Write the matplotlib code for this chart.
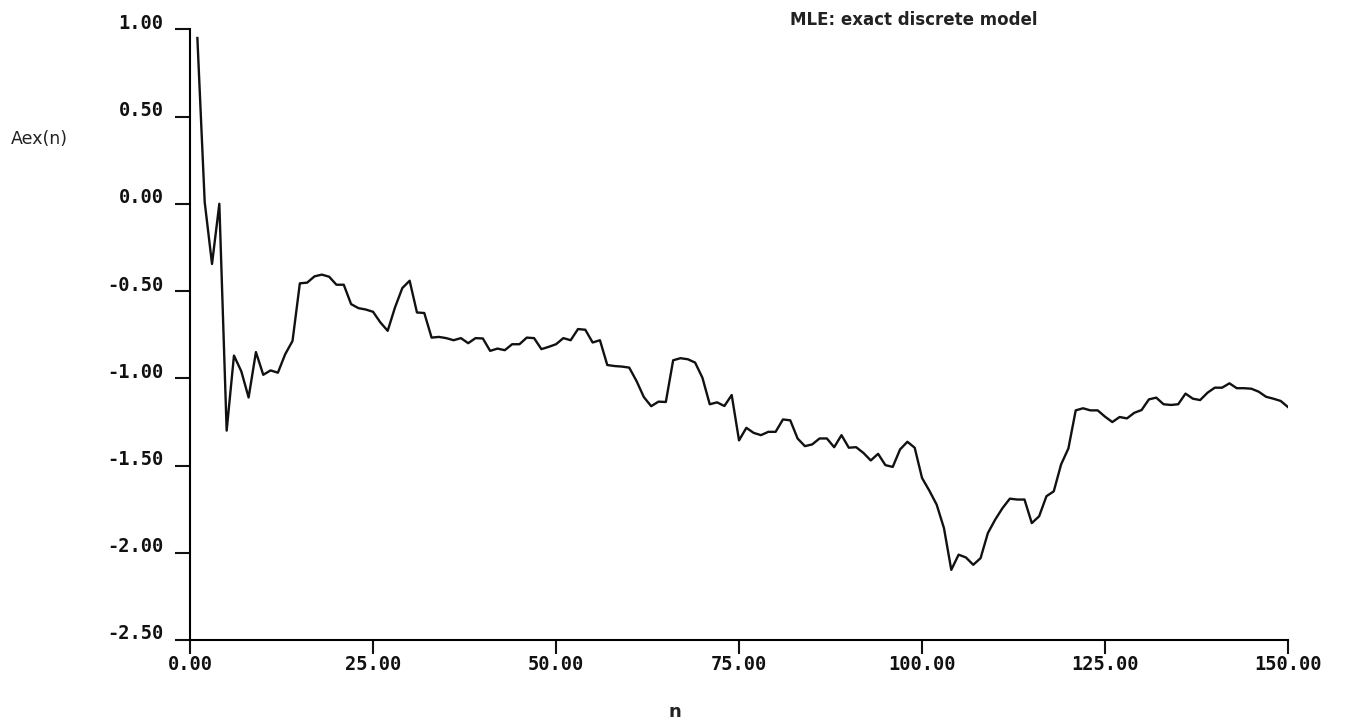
import matplotlib
matplotlib.use("Agg")
import matplotlib.pyplot as plt
import matplotlib.transforms as mtransforms
import numpy as np

# Aex(n) values, one per n = 1..150
n_values = list(range(1, 151))
aex = [
    0.95, 0.01, -0.345, 0.0, -1.30, -0.87, -0.96, -1.11, -0.85, -0.98,
    -0.955, -0.968, -0.862, -0.786, -0.456, -0.452, -0.416, -0.406, -0.418, -0.464,
    -0.464, -0.575, -0.598, -0.606, -0.619, -0.680, -0.728, -0.594, -0.483, -0.441,
    -0.623, -0.626, -0.767, -0.763, -0.770, -0.782, -0.770, -0.799, -0.770, -0.772,
    -0.843, -0.830, -0.839, -0.805, -0.805, -0.767, -0.770, -0.833, -0.820, -0.805,
    -0.770, -0.782, -0.718, -0.722, -0.795, -0.782, -0.924, -0.930, -0.933, -0.939,
    -1.016, -1.108, -1.160, -1.134, -1.136, -0.897, -0.885, -0.891, -0.910, -0.997,
    -1.149, -1.138, -1.159, -1.096, -1.356, -1.284, -1.313, -1.326, -1.307, -1.307,
    -1.236, -1.241, -1.345, -1.389, -1.379, -1.345, -1.345, -1.395, -1.326, -1.398,
    -1.395, -1.428, -1.471, -1.433, -1.498, -1.508, -1.408, -1.364, -1.398, -1.571,
    -1.644, -1.724, -1.859, -2.098, -2.011, -2.027, -2.069, -2.031, -1.887, -1.810,
    -1.744, -1.690, -1.695, -1.695, -1.830, -1.791, -1.676, -1.648, -1.494, -1.402,
    -1.184, -1.172, -1.184, -1.184, -1.220, -1.251, -1.222, -1.230, -1.198, -1.182,
    -1.121, -1.111, -1.149, -1.153, -1.149, -1.088, -1.117, -1.125, -1.083, -1.054,
    -1.054, -1.029, -1.057, -1.057, -1.060, -1.077, -1.106, -1.117, -1.130, -1.165,
]
x_ticks = [0, 25, 50, 75, 100, 125, 150]
y_ticks = [1.0, 0.5, 0.0, -0.5, -1.0, -1.5, -2.0, -2.5]

title = "MLE: exact discrete model"
ylabel = "Aex(n)"
xlabel = "n"

plt.rcParams['axes.unicode_minus'] = False
tick_font = {'family': 'DejaVu Sans Mono', 'weight': 'bold', 'size': 13.5}

fig = plt.figure(figsize=(13.46, 7.23), dpi=100)
ax = fig.add_axes([0.1412, 0.1148, 0.8157, 0.8447])

ax.plot(np.asarray(n_values), np.asarray(aex), color="#111111", linewidth=1.7)

ax.set_xlim(0, 150)
ax.set_ylim(-2.5, 1.0)
ax.spines['top'].set_visible(False)
ax.spines['right'].set_visible(False)
ax.spines['left'].set_linewidth(1.5)
ax.spines['bottom'].set_linewidth(1.5)

ax.set_xticks(x_ticks)
ax.set_xticklabels(["%.2f" % v for v in x_ticks], fontdict=tick_font)
ax.set_yticks(y_ticks)
ax.set_yticklabels(["%.2f" % v for v in y_ticks], fontdict=tick_font)
ax.tick_params(axis='x', direction='out', length=10, width=1.5, pad=1, colors="#111111")
ax.tick_params(axis='y', direction='out', length=11, width=1.5, pad=8, colors="#111111")

# the plotter put the y labels a little above their ticks
offset = mtransforms.ScaledTranslation(0, 8 / 100, fig.dpi_scale_trans)
for label in ax.get_yticklabels():
    label.set_transform(label.get_transform() + offset)

fig.text(914 / 1346, 1 - 20 / 723, title, ha='center', va='center',
         fontsize=12, fontweight='bold', family='DejaVu Sans', color="#222222")
fig.text(39 / 1346, 1 - 139 / 723, ylabel, ha='center', va='center',
         fontsize=12.5, family='DejaVu Sans', color="#222222")
fig.text(675 / 1346, 1 - 712 / 723, xlabel, ha='center', va='center',
         fontsize=13, fontweight='bold', family='DejaVu Sans', color="#222222")

fig.savefig("out.png", dpi=100)
